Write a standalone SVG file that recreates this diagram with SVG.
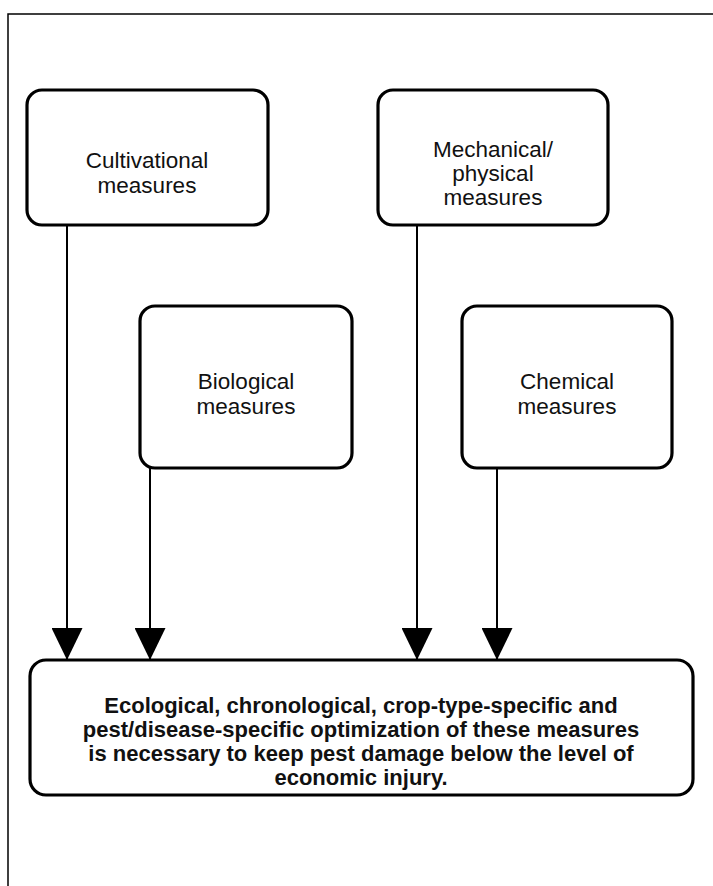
<svg xmlns="http://www.w3.org/2000/svg" width="713" height="886" viewBox="0 0 713 886">
<style>
.frame{fill:none;stroke:#000;stroke-width:1.5}
.box{fill:#fff;stroke:#000;stroke-width:3.2}
.t{font-family:"Liberation Sans",Arial,sans-serif;font-size:22.5px;fill:#111;text-anchor:middle}
.b{font-family:"Liberation Sans",Arial,sans-serif;font-size:22px;font-weight:bold;fill:#111;text-anchor:middle}
.ln{stroke:#000;stroke-width:2;fill:none}
</style>
<defs>
<marker id="ah" viewBox="0 0 32 31" refX="32" refY="15.5" markerWidth="32" markerHeight="31" markerUnits="userSpaceOnUse" orient="auto">
<path d="M0,0 L32,15.5 L0,31 Z" fill="#000"/>
</marker>
</defs>
<rect width="713" height="886" fill="#fff"/>
<path class="frame" d="M8,886 L8,14 L713,14"/>
<g id="connectors">
<line class="ln" x1="67" y1="225" x2="67" y2="660" marker-end="url(#ah)"/>
<line class="ln" x1="150" y1="468" x2="150" y2="660" marker-end="url(#ah)"/>
<line class="ln" x1="417" y1="225" x2="417" y2="660" marker-end="url(#ah)"/>
<line class="ln" x1="497" y1="468" x2="497" y2="660" marker-end="url(#ah)"/>
</g>
<g id="cultivational">
<rect class="box" x="27" y="90" width="241" height="135" rx="15"/>
<text class="t" x="147" y="168">Cultivational</text>
<text class="t" x="147" y="193">measures</text>
</g>
<g id="mechanical">
<rect class="box" x="378" y="90" width="230" height="135" rx="15"/>
<text class="t" x="493" y="157">Mechanical/</text>
<text class="t" x="493" y="181">physical</text>
<text class="t" x="493" y="205">measures</text>
</g>
<g id="biological">
<rect class="box" x="140" y="306" width="212" height="162" rx="15"/>
<text class="t" x="246" y="389">Biological</text>
<text class="t" x="246" y="414">measures</text>
</g>
<g id="chemical">
<rect class="box" x="462" y="306" width="210" height="162" rx="15"/>
<text class="t" x="567" y="389">Chemical</text>
<text class="t" x="567" y="414">measures</text>
</g>
<g id="result">
<rect class="box" x="30" y="660" width="663" height="135" rx="16"/>
<text class="b" x="361" y="713">Ecological, chronological, crop-type-specific and</text>
<text class="b" x="361" y="737">pest/disease-specific optimization of these measures</text>
<text class="b" x="361" y="761">is necessary to keep pest damage below the level of</text>
<text class="b" x="361" y="785">economic injury.</text>
</g>
</svg>
